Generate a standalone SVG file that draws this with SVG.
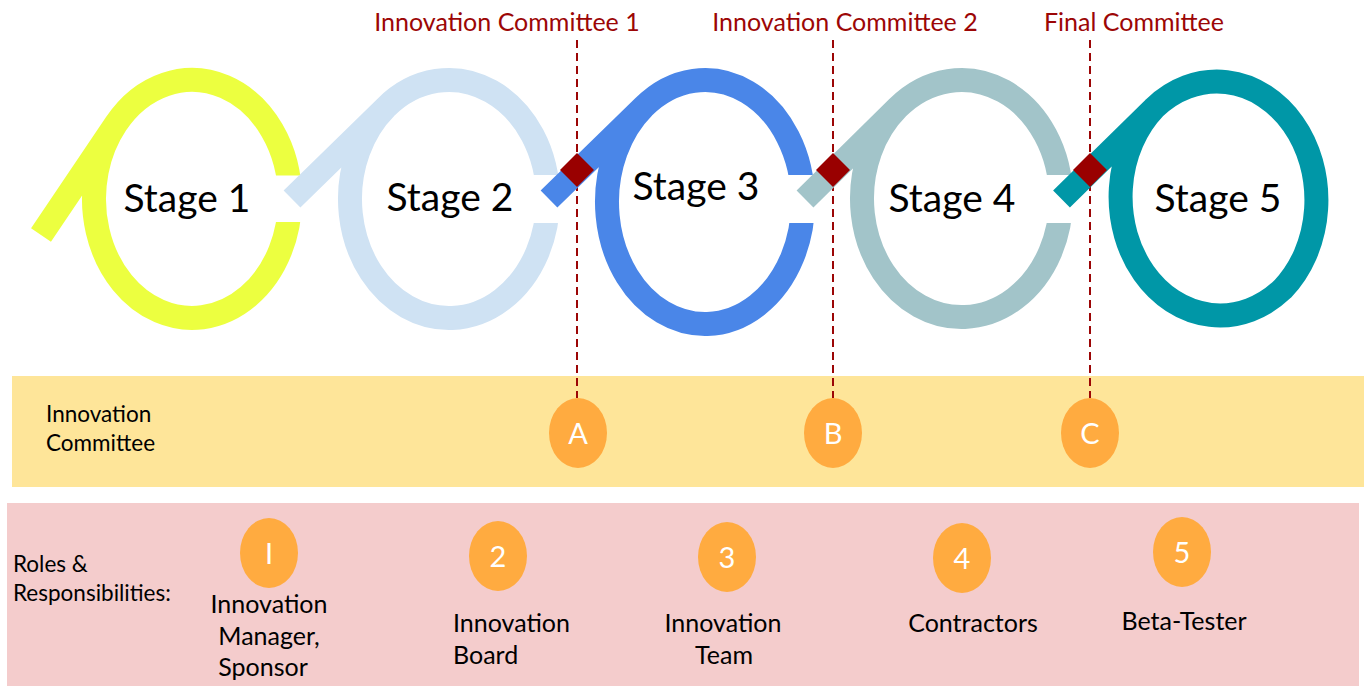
<svg xmlns="http://www.w3.org/2000/svg" width="1366" height="686" viewBox="0 0 1366 686">
<style>
  text { font-family: Lato, "Open Sans", "Liberation Sans", sans-serif; }
  .stage { font-size: 39px; fill: #000; text-anchor: middle; }
  .comm { font-size: 25px; fill: #9c0606; text-anchor: middle; }
  .lbl { font-size: 22.5px; fill: #000; }
  .role { font-size: 25px; fill: #000; }
  .mid { text-anchor: middle; }
  .badge { fill: #ffab40; }
  .btxt { font-size: 29px; fill: #fff; text-anchor: middle; }
  .loop { fill: none; stroke-width: 24; stroke-linecap: butt; stroke-linejoin: round; }
  .cut { fill: #fff; }
  .dash { stroke: #9c0606; stroke-width: 2; stroke-dasharray: 8 5; fill: none; }
  .gate { fill: #990000; }
</style>

<g id="bands">
  <rect x="12" y="376" width="1352" height="111" fill="#fee599"/>
  <rect x="7" y="503" width="1352" height="183" fill="#f4cccc"/>
</g>

<g id="band-labels">
  <text class="lbl" x="46" y="422">Innovation</text>
  <text class="lbl" x="46" y="451">Committee</text>
  <text class="lbl" x="13" y="572">Roles &amp;</text>
  <text class="lbl" x="13" y="601">Responsibilities:</text>
</g>

<g id="connectors">
  <line class="dash" x1="577" y1="40" x2="577" y2="398"/>
  <line class="dash" x1="833" y1="40" x2="833" y2="398"/>
  <line class="dash" x1="1090" y1="40" x2="1090" y2="398"/>
</g>

<g id="committee-labels">
  <text class="comm" x="507" y="31">Innovation Committee 1</text>
  <text class="comm" x="845" y="31">Innovation Committee 2</text>
  <text class="comm" x="1134" y="31">Final Committee</text>
</g>

<g id="stage1">
  <path class="loop" stroke="#ecff40" d="M41,235 L116,123.8 A98,119 0 0 1 290,199 A98,119 0 1 1 116,123.8"/>
  <rect class="cut" x="274" y="175.5" width="34" height="46.5"/>
  <text class="stage" x="187" y="212">Stage 1</text>
</g>
<g id="stage2">
  <path class="loop" stroke="#cfe2f3" d="M292,199 L385.7,107.5 A99,119 0 0 1 548,199 A99,119 0 1 1 385.7,107.5"/>
  <rect class="cut" x="532" y="175" width="34" height="48"/>
  <text class="stage" x="450" y="211">Stage 2</text>
</g>
<g id="stage3">
  <path class="loop" stroke="#4a86e8" d="M549,199 L643.6,106.9 A98,122 0 0 1 803,202 A98,122 0 1 1 643.6,106.9"/>
  <rect class="cut" x="787" y="175" width="34" height="48"/>
  <rect class="gate" x="565" y="158" width="24" height="24" transform="rotate(45 577 170)"/>
  <text class="stage" x="696" y="200">Stage 3</text>
</g>
<g id="stage4">
  <path class="loop" stroke="#a2c4c9" d="M805,199 L897.5,107.8 A99.5,118.5 0 0 1 1061,198.5 A99.5,118.5 0 1 1 897.5,107.8"/>
  <rect class="cut" x="1044" y="175" width="34" height="48"/>
  <rect class="gate" x="821" y="158" width="24" height="24" transform="rotate(45 833 170)"/>
  <text class="stage" x="952" y="212">Stage 4</text>
</g>
<g id="stage5">
  <path class="loop" stroke="#0097a7" d="M1061.5,199 L1154.5,107.8 A99.5,118.5 0 0 1 1282.5,289.2 A99.5,118.5 0 0 1 1154.5,107.8"/>
  <rect class="gate" x="1078" y="158" width="24" height="24" transform="rotate(45 1090 170)"/>
  <text class="stage" x="1218" y="212">Stage 5</text>
</g>

<g id="committee-A">
  <ellipse class="badge" cx="578" cy="433" rx="29" ry="35"/>
  <text class="btxt" x="578" y="444">A</text>
</g>
<g id="committee-B">
  <ellipse class="badge" cx="833" cy="433" rx="29" ry="35"/>
  <text class="btxt" x="833" y="444">B</text>
</g>
<g id="committee-C">
  <ellipse class="badge" cx="1090" cy="433" rx="29" ry="35"/>
  <text class="btxt" x="1090" y="444">C</text>
</g>

<g id="role-1">
  <ellipse class="badge" cx="269" cy="553" rx="29" ry="35"/>
  <text class="btxt" x="269" y="564">I</text>
  <text class="role mid" x="269" y="613">Innovation</text>
  <text class="role mid" x="269" y="645">Manager,</text>
  <text class="role mid" x="263" y="676">Sponsor</text>
</g>
<g id="role-2">
  <ellipse class="badge" cx="498" cy="556" rx="29" ry="35"/>
  <text class="btxt" x="498" y="567">2</text>
  <text class="role" x="453" y="632">Innovation</text>
  <text class="role" x="453" y="664">Board</text>
</g>
<g id="role-3">
  <ellipse class="badge" cx="727" cy="557" rx="29" ry="35"/>
  <text class="btxt" x="727" y="568">3</text>
  <text class="role mid" x="723" y="632">Innovation</text>
  <text class="role mid" x="724" y="664">Team</text>
</g>
<g id="role-4">
  <ellipse class="badge" cx="962" cy="558" rx="29" ry="35"/>
  <text class="btxt" x="962" y="569">4</text>
  <text class="role mid" x="973" y="632">Contractors</text>
</g>
<g id="role-5">
  <ellipse class="badge" cx="1182" cy="552" rx="29" ry="35"/>
  <text class="btxt" x="1182" y="563">5</text>
  <text class="role mid" x="1184" y="630">Beta-Tester</text>
</g>
</svg>
